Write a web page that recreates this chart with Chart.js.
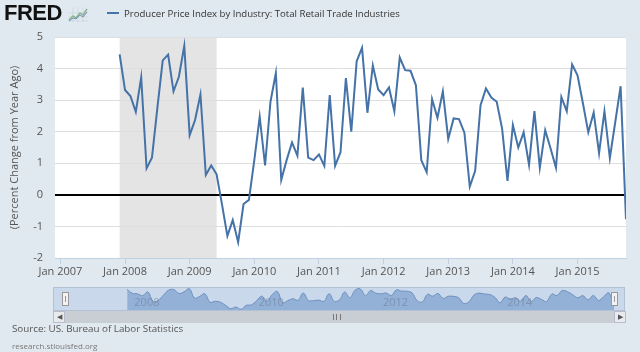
<!DOCTYPE html>
<html>
<head>
<meta charset="utf-8">
<script src="https://cdn.jsdelivr.net/npm/chart.js@4.4.1/dist/chart.umd.min.js"></script>
<style>
    html, body { margin: 0; padding: 0; background: #e1e9f0; }
    #wrap { position: relative; width: 640px; height: 352px; overflow: hidden; font-family: "Open Sans", sans-serif; }
    #mainChart { position: absolute; left: 0; top: 0; }
    #logo { position: absolute; left: 4px; top: 0px; font: bold 22px "Liberation Sans", Arial, sans-serif; color: #111; letter-spacing: -0.5px; }
    #logoIcon { position: absolute; left: 68px; top: 7px; }
    #legend { position: absolute; left: 107px; top: 7px; font-size: 9.6px; color: #333; white-space: nowrap; }
    #legend span.swatch { display: inline-block; width: 12px; height: 2px; background: #4572a7; vertical-align: middle; margin-right: 5px; position: relative; top: -1px; }
    #navBox { position: absolute; left: 53px; top: 287px; width: 572px; height: 24px; background: #c9d9eb; border: 1px solid #b2c2d4; box-sizing: border-box; }
    #navChart { position: absolute; left: 65px; top: 288px; }
    .handle { position: absolute; top: 292px; width: 7px; height: 14px; background: #f2f2f2; border: 1px solid #999; box-sizing: border-box; }
    .handle:after { content: ""; position: absolute; left: 2px; top: 3px; width: 1px; height: 6px; border-left: 1px solid #999; }
    #scroll { position: absolute; left: 53px; top: 311px; width: 573px; height: 12px; background: #c9ced4; }
    .sbtn { position: absolute; top: 0; width: 12px; height: 12px; background: #e8ebee; border: 1px solid #bbc; box-sizing: border-box; font-size: 7px; line-height: 10px; text-align: center; color: #555; }
    #grip { position: absolute; left: 280px; top: 3px; width: 6px; height: 6px; border-left: 1px solid #777; border-right: 1px solid #777; }
    #grip:after { content: ""; position: absolute; left: 2px; top: 0; height: 6px; border-left: 1px solid #777; }
    #source { position: absolute; left: 12px; top: 322px; font-size: 9.8px; color: #555; }
    #site { position: absolute; left: 12px; top: 340px; font-size: 8px; color: #777; }
</style>
</head>
<body>
<div id="wrap">
    <canvas id="mainChart" width="640" height="285"></canvas>
    <div id="logo">FRED</div>
    <svg id="logoIcon" width="20" height="15" viewBox="0 0 20 15">
        <path d="M0 14 H20 M0 10 H20 M0 6 H20 M5 0 V15 M10 0 V15 M15 0 V15" stroke="#c8d0d8" stroke-width="0.6" fill="none"/>
        <path d="M1 13 L5 9 L8 11 L12 6 L15 8 L19 2" stroke="#8db38f" stroke-width="1.5" fill="none"/>
        <path d="M1 14 L5 11 L8 12 L12 8 L15 10 L19 5" stroke="#6f93bd" stroke-width="1" fill="none"/>
    </svg>
    <div id="legend"><span class="swatch"></span>Producer Price Index by Industry: Total Retail Trade Industries</div>
    <div id="navBox"></div>
    <canvas id="navChart" width="549" height="22"></canvas>
    <div class="handle" style="left:62px"></div>
    <div class="handle" style="left:611px"></div>
    <div id="scroll">
        <div class="sbtn" style="left:0">&#9664;</div>
        <div class="sbtn" style="right:0">&#9654;</div>
        <div id="grip"></div>
    </div>
    <div id="source">Source: US. Bureau of Labor Statistics</div>
    <div id="site">research.stlouisfed.org</div>
</div>
<script>
    // Monthly values, % change from year ago (x counted in months from Jan 2007)
    const firstMonth = 11; // Dec 2007
    const ppi2007 = [4.45];
    const ppi2008 = [3.32, 3.13, 2.63, 3.72, 0.84, 1.18, 2.75, 4.26, 4.44, 3.28, 3.74, 4.72];
    const ppi2009 = [1.89, 2.37, 3.18, 0.63, 0.93, 0.65, -0.3, -1.3, -0.8, -1.5, -0.29, -0.16];
    const ppi2010 = [1.1, 2.47, 0.93, 2.95, 3.86, 0.47, 1.1, 1.66, 1.24, 3.4, 1.18, 1.1];
    const ppi2011 = [1.28, 0.92, 3.16, 0.92, 1.35, 3.7, 2.0, 4.23, 4.66, 2.6, 4.1, 3.34];
    const ppi2012 = [3.16, 3.4, 2.65, 4.35, 3.95, 3.93, 3.47, 1.1, 0.72, 3.03, 2.44, 3.28];
    const ppi2013 = [1.77, 2.42, 2.4, 1.97, 0.26, 0.76, 2.84, 3.37, 3.08, 2.95, 2.1, 0.44];
    const ppi2014 = [2.21, 1.5, 1.98, 0.95, 2.65, 0.86, 2.05, 1.47, 0.86, 3.1, 2.65, 4.13];
    const ppi2015 = [3.79, 2.9, 1.98, 2.61, 1.32, 2.65, 1.16, 2.3, 3.44, -0.77];

    const xTickValues = [0, 12, 24, 36, 48, 60, 72, 84, 96];
    const xTickLabels = ['Jan 2007', 'Jan 2008', 'Jan 2009', 'Jan 2010', 'Jan 2011', 'Jan 2012', 'Jan 2013', 'Jan 2014', 'Jan 2015'];
    const navTickValues = [12, 36, 60, 84];
    const navTickLabels = ['2008', '2010', '2012', '2014'];
    const recession = [11, 29]; // Dec 2007 - Jun 2009
    const xRange = [-1, 105];

    const values = [].concat(ppi2007, ppi2008, ppi2009, ppi2010, ppi2011, ppi2012, ppi2013, ppi2014, ppi2015);
    const points = values.map((v, i) => ({ x: firstMonth + i, y: v }));

    const LINE = '#4572a7';
    const FONT = '"Open Sans", sans-serif';

    // white plot area + recession band, drawn under the grid
    const plotBg = {
        id: 'plotBg',
        beforeDraw(chart) {
            const { ctx, chartArea: a, scales: { x } } = chart;
            ctx.save();
            ctx.fillStyle = '#ffffff';
            ctx.fillRect(a.left, a.top, a.right - a.left, a.bottom - a.top);
            const x0 = x.getPixelForValue(recession[0]);
            const x1 = x.getPixelForValue(recession[1]);
            ctx.fillStyle = '#e4e4e4';
            ctx.fillRect(x0, a.top, x1 - x0, a.bottom - a.top);
            ctx.restore();
        }
    };

    new Chart(document.getElementById('mainChart'), {
        type: 'line',
        data: {
            datasets: [{
                data: points,
                borderColor: LINE,
                borderWidth: 2,
                pointRadius: 0,
                tension: 0,
                fill: false
            }]
        },
        options: {
            responsive: false,
            animation: false,
            layout: { padding: { top: 37, right: 14, left: 0, bottom: 0 } },
            plugins: { legend: { display: false }, tooltip: { enabled: false } },
            scales: {
                x: {
                    type: 'linear',
                    min: xRange[0],
                    max: xRange[1],
                    afterFit: s => { s.height = 27; },
                    afterBuildTicks: s => { s.ticks = xTickValues.map(v => ({ value: v })); },
                    grid: { drawOnChartArea: false, drawTicks: true, tickLength: 6, tickColor: '#c0d0e0' },
                    border: { color: '#c0d0e0' },
                    ticks: {
                        autoSkip: false,
                        maxRotation: 0,
                        padding: 1,
                        color: '#555',
                        font: { family: FONT, size: 11 },
                        callback: v => xTickLabels[xTickValues.indexOf(v)]
                    }
                },
                y: {
                    min: -2,
                    max: 5,
                    afterFit: s => { s.width = 55; },
                    grid: {
                        drawTicks: false,
                        color: c => c.tick.value === 0 ? '#000000' : '#dedede',
                        lineWidth: c => c.tick.value === 0 ? 2 : 1
                    },
                    border: { display: false },
                    ticks: { stepSize: 1, padding: 12, color: '#555', font: { family: FONT, size: 11 } },
                    title: {
                        display: true,
                        text: '(Percent Change from Year Ago)',
                        color: '#555',
                        padding: { top: 8, bottom: 0 },
                        font: { family: FONT, size: 11 }
                    }
                }
            }
        },
        plugins: [plotBg]
    });

    // year labels inside the navigator
    const navLabels = {
        id: 'navLabels',
        afterDraw(chart) {
            const { ctx, chartArea: a, scales: { x } } = chart;
            ctx.save();
            ctx.fillStyle = 'rgba(90,100,120,0.4)';
            ctx.font = '11px ' + FONT;
            ctx.textBaseline = 'middle';
            navTickValues.forEach((v, i) => {
                ctx.fillText(navTickLabels[i], x.getPixelForValue(v) + 2, a.top + 15);
            });
            ctx.restore();
        }
    };

    new Chart(document.getElementById('navChart'), {
        type: 'line',
        data: {
            datasets: [{
                data: points,
                borderColor: '#6d8fbd',
                borderWidth: 1,
                backgroundColor: '#93b1d7',
                pointRadius: 0,
                tension: 0.4,
                fill: 'start'
            }]
        },
        options: {
            responsive: false,
            animation: false,
            layout: { padding: 0 },
            plugins: { legend: { display: false }, tooltip: { enabled: false } },
            scales: {
                x: { type: 'linear', display: false, min: xRange[0], max: xRange[1] },
                y: { display: false, min: -1.7, max: 4.9 }
            }
        },
        plugins: [navLabels]
    });
</script>
</body>
</html>
